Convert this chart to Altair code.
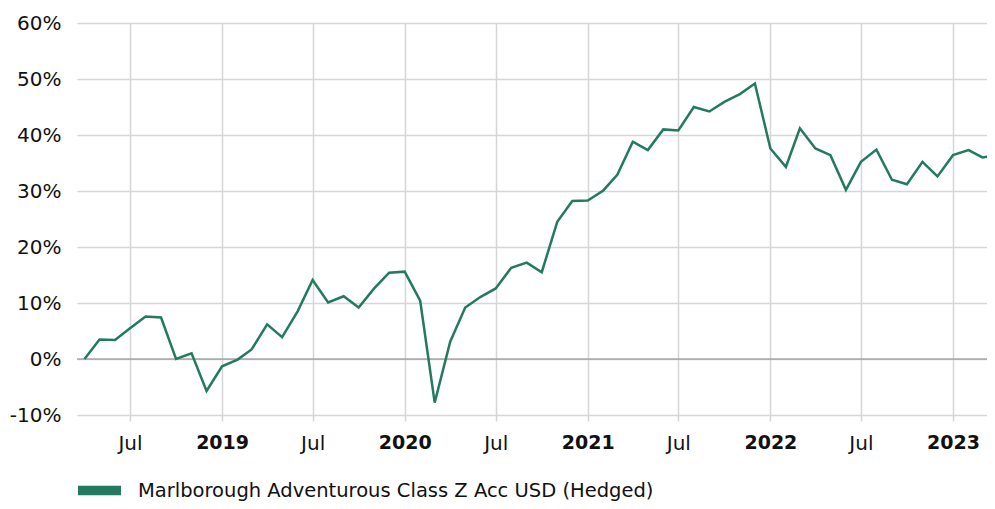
import altair as alt
import pandas as pd

months = pd.date_range("2018-04-01", "2023-04-01", freq="MS").strftime("%Y-%m-%dT00:00:00").tolist()
values = [
    0.0, 3.5, 3.4, 5.5, 7.6, 7.4, 0.0, 1.0, -5.7,
    -1.3, -0.1, 1.7, 6.2, 3.9, 8.5, 14.1, 10.1, 11.2, 9.2, 12.6, 15.4,
    15.6, 10.4, -7.8, 3.1, 9.2, 11.1, 12.6, 16.3, 17.2, 15.5, 24.5, 28.2,
    28.3, 30.1, 32.9, 38.8, 37.3, 41.0, 40.8, 45.0, 44.2, 45.9, 47.3, 49.2,
    37.6, 34.3, 41.2, 37.6, 36.4, 30.2, 35.2, 37.4, 32.0, 31.2, 35.2, 32.6,
    36.4, 37.3, 36.0, 36.4,
]
series_name = "Marlborough Adventurous Class Z Acc USD (Hedged)"
line_color = "#237a5f"

y_ticks = [-10, 0, 10, 20, 30, 40, 50, 60]
x_ticks = [
    alt.DateTime(year=2018, month=7, date=1),
    alt.DateTime(year=2019, month=1, date=1),
    alt.DateTime(year=2019, month=7, date=1),
    alt.DateTime(year=2020, month=1, date=1),
    alt.DateTime(year=2020, month=7, date=1),
    alt.DateTime(year=2021, month=1, date=1),
    alt.DateTime(year=2021, month=7, date=1),
    alt.DateTime(year=2022, month=1, date=1),
    alt.DateTime(year=2022, month=7, date=1),
    alt.DateTime(year=2023, month=1, date=1),
]

df = pd.DataFrame({"date": months, "value": values, "series": series_name})

x_enc = alt.X(
    "date:T",
    title=None,
    scale=alt.Scale(domain=[alt.DateTime(year=2018, month=3, date=17),
                            alt.DateTime(year=2023, month=3, date=10)]),
    axis=alt.Axis(
        values=x_ticks,
        labelExpr="month(datum.value) == 0 ? timeFormat(datum.value, '%Y') : timeFormat(datum.value, '%b')",
        labelFontWeight=alt.ExprRef(expr="month(datum.value) == 0 ? 'bold' : 'normal'"),
        labelFontSize=alt.ExprRef(expr="month(datum.value) == 0 ? 19 : 20"),
        labelFont="DejaVu Sans",
        labelColor="#111111",
        labelPadding=12,
        tickSize=6,
        tickColor="#d4d4d4",
        tickWidth=1.5,
        domain=False,
        grid=True,
        gridColor="#d6d6d6",
        gridWidth=1.5,
        labelFlush=False,
        labelOverlap=False,
    ),
)

y_scale = alt.Scale(domain=[-10, 60], nice=False, zero=False)

line = alt.Chart(df).mark_line(strokeWidth=2.5, clip=True).encode(
    x=x_enc,
    y=alt.Y(
        "value:Q",
        title=None,
        scale=y_scale,
        axis=alt.Axis(
            values=y_ticks,
            labelExpr="datum.value + '%'",
            labelFont="DejaVu Sans",
            labelFontSize=20,
            labelColor="#111111",
            labelPadding=16,
            ticks=False,
            domain=False,
            grid=True,
            gridColor="#d6d6d6",
            gridWidth=1.5,
        ),
    ),
    color=alt.Color(
        "series:N",
        scale=alt.Scale(range=[line_color]),
        legend=alt.Legend(
            title=None,
            orient="none",
            legendX=1,
            legendY=446,
            padding=0,
            symbolType="M-1,-0.22L1,-0.22L1,0.22L-1,0.22Z",
            symbolSize=1849,
            symbolFillColor=line_color,
            symbolStrokeWidth=0,
            labelFont="DejaVu Sans",
            labelFontSize=19.5,
            labelColor="#111111",
            labelOffset=17,
            labelLimit=800,
        ),
    ),
)

zero = alt.Chart(pd.DataFrame({"z": [0]})).mark_rule(color="#858585", strokeWidth=1.2).encode(
    y=alt.Y("z:Q", scale=y_scale)
)

chart = alt.layer(zero, line).properties(
    width=910,
    height=392,
    autosize=alt.AutoSizeParams(type="none"),
    padding={"left": 69, "top": 15, "right": 0, "bottom": 86},
).configure_view(stroke=None)

chart.save("out.html", embed_options={"renderer": "svg", "actions": False})
